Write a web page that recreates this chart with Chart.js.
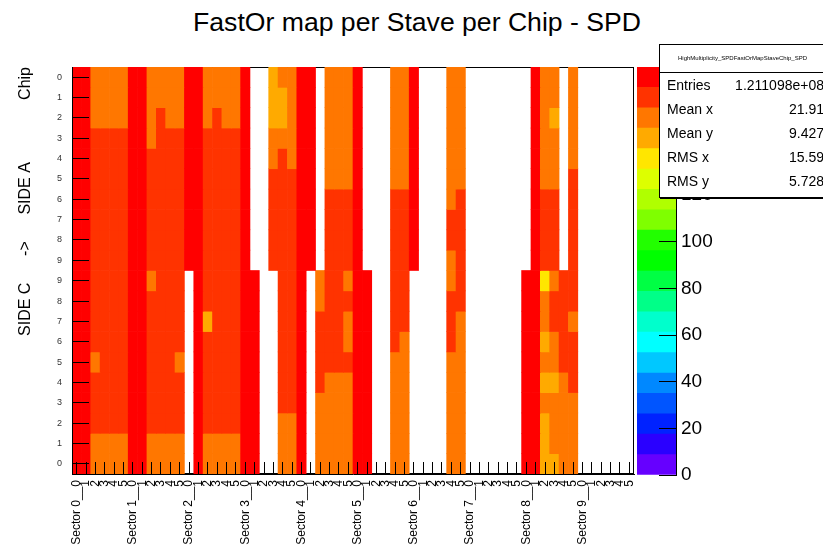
<!DOCTYPE html>
<html>
<head>
<meta charset="utf-8">
<script src="https://cdn.jsdelivr.net/npm/chart.js@4.4.1/dist/chart.umd.min.js"></script>
<style>
  html, body { margin: 0; padding: 0; background: #fff; overflow: hidden; }
  body { width: 823px; height: 554px; position: relative; font-family: "Liberation Sans", Arial, sans-serif; }
  #main { position: absolute; left: 0; top: 0; }
  #pal { position: absolute; left: 630px; top: 0; }
  #title { position: absolute; left: 0; top: 9px; width: 834px; text-align: center; font-size: 26.6px; line-height: 26px; white-space: nowrap; }
  #stats { position: absolute; left: 659px; top: 44px; width: 165px; height: 152px; background: #fff; border: 1px solid #000; box-shadow: 1px 1px 0 #000; }
  #stats .hdr { height: 27px; border-bottom: 1px solid #000; font-size: 6px; line-height: 27px; text-align: center; white-space: nowrap; overflow: hidden; }
  #stats .row { height: 24px; line-height: 24px; font-size: 14px; display: flex; justify-content: space-between; padding: 0 1px 0 7px; }
</style>
</head>
<body>
<div id="title">FastOr map per Stave per Chip - SPD</div>
<canvas id="main" width="823" height="554"></canvas>
<canvas id="pal" width="193" height="554"></canvas>
<div id="stats">
  <div class="hdr">HighMultiplicity_SPDFastOrMapStaveChip_SPD</div>
  <div class="row"><span>Entries</span><span>1.211098e+08</span></div>
  <div class="row"><span>Mean x</span><span>21.91</span></div>
  <div class="row"><span>Mean y</span><span>9.427</span></div>
  <div class="row"><span>RMS x</span><span>15.59</span></div>
  <div class="row"><span>RMS y</span><span>5.728</span></div>
</div>
<script>
// 10 sectors x 6 staves on x, chips on y (side A on top, side C below)
const sectors = [0, 1, 2, 3, 4, 5, 6, 7, 8, 9];
const staves = [0, 1, 2, 3, 4, 5];
const zTicks = [0, 20, 40, 60, 80, 100, 120, 140, 160];
const zMax = 175;

// rows listed top to bottom, 6 values per sector, 0 = empty bin
const sideA0 = [171,171,153,153,153,153, 171,171,153,153,153,153, 171,171,153,153,153,153, 171,0,0,144,153,153, 171,171,0,153,153,153, 171,0,0,0,153,153, 171,0,0,0,153,153, 0,0,0,0,0,0, 0,171,153,153,0,153, 0,0,0,0,0,0];
const sideA1 = [171,171,153,153,153,153, 171,171,153,153,153,153, 171,171,153,153,153,153, 171,0,0,144,144,153, 171,171,0,153,153,153, 171,0,0,0,153,153, 171,0,0,0,153,153, 0,0,0,0,0,0, 0,171,153,153,0,153, 0,0,0,0,0,0];
const sideA2 = [171,171,153,153,153,153, 171,171,153,162,153,153, 171,171,153,162,153,153, 171,0,0,144,144,153, 171,171,0,153,153,153, 171,0,0,0,153,153, 171,0,0,0,153,153, 0,0,0,0,0,0, 0,171,153,144,0,153, 0,0,0,0,0,0];
const sideA3 = [171,171,162,162,162,162, 171,171,153,162,162,162, 171,171,162,162,162,162, 171,0,0,153,153,153, 171,171,0,153,153,153, 171,0,0,0,153,153, 171,0,0,0,153,153, 0,0,0,0,0,0, 0,171,153,153,0,153, 0,0,0,0,0,0];
const sideA4 = [171,171,162,162,162,162, 171,171,162,162,162,162, 171,171,162,162,162,162, 171,0,0,153,162,153, 171,171,0,153,153,153, 171,0,0,0,153,153, 171,0,0,0,153,153, 0,0,0,0,0,0, 0,171,153,153,0,153, 0,0,0,0,0,0];
const sideA5 = [171,171,162,162,162,162, 171,171,162,162,162,162, 171,171,162,162,162,162, 171,0,0,162,162,162, 171,171,0,153,153,153, 171,0,0,0,153,153, 171,0,0,0,153,153, 0,0,0,0,0,0, 0,171,153,153,0,162, 0,0,0,0,0,0];
const sideA6 = [171,171,162,162,162,162, 171,171,162,162,162,162, 171,171,162,162,162,162, 171,0,0,162,162,162, 171,171,0,162,162,162, 171,0,0,0,162,162, 171,0,0,0,153,162, 0,0,0,0,0,0, 0,171,162,162,0,162, 0,0,0,0,0,0];
const sideA7 = [171,171,162,162,162,162, 171,171,162,162,162,162, 171,171,162,162,162,162, 171,0,0,162,162,162, 171,171,0,162,162,162, 171,0,0,0,162,162, 171,0,0,0,162,162, 0,0,0,0,0,0, 0,171,162,162,0,162, 0,0,0,0,0,0];
const sideA8 = [171,171,162,162,162,162, 171,171,162,162,162,162, 171,171,162,162,162,162, 171,0,0,162,162,162, 171,171,0,162,162,162, 171,0,0,0,162,162, 171,0,0,0,162,162, 0,0,0,0,0,0, 0,171,162,162,0,162, 0,0,0,0,0,0];
const sideA9 = [171,171,162,162,162,162, 171,171,162,162,162,162, 171,171,162,162,162,162, 171,0,0,162,162,162, 171,171,0,162,162,162, 171,0,0,0,162,162, 171,0,0,0,153,162, 0,0,0,0,0,0, 0,171,162,162,0,162, 0,0,0,0,0,0];
const sideC9 = [171,171,162,162,162,162, 171,171,153,162,162,162, 0,171,162,162,162,162, 171,171,0,0,162,162, 171,0,153,162,162,153, 171,171,0,0,162,162, 0,0,0,0,153,162, 0,0,0,0,0,0, 171,171,136,153,162,162, 0,0,0,0,0,0];
const sideC8 = [171,171,162,162,162,162, 171,171,162,162,162,162, 0,171,162,162,162,162, 171,171,0,0,162,162, 171,0,153,162,162,162, 171,171,0,0,162,162, 0,0,0,0,162,162, 0,0,0,0,0,0, 171,171,153,162,162,162, 0,0,0,0,0,0];
const sideC7 = [171,171,162,162,162,162, 171,171,162,162,162,162, 0,171,144,162,162,162, 171,171,0,0,162,162, 171,0,162,162,162,153, 171,171,0,0,162,162, 0,0,0,0,162,153, 0,0,0,0,0,0, 171,171,153,162,162,153, 0,0,0,0,0,0];
const sideC6 = [171,171,162,162,162,162, 171,171,162,162,162,162, 0,171,162,162,162,162, 171,171,0,0,162,162, 171,0,162,162,162,153, 171,171,0,0,162,153, 0,0,0,0,162,153, 0,0,0,0,0,0, 171,171,144,153,162,162, 0,0,0,0,0,0];
const sideC5 = [171,171,153,162,162,162, 171,171,162,162,162,153, 0,171,162,162,162,162, 171,171,0,0,162,162, 171,0,162,162,162,162, 171,171,0,0,153,153, 0,0,0,0,153,153, 0,0,0,0,0,0, 171,171,153,153,162,162, 0,0,0,0,0,0];
const sideC4 = [171,171,162,162,162,162, 171,171,162,162,162,162, 0,171,162,162,162,162, 171,171,0,0,162,162, 171,0,162,153,153,153, 171,171,0,0,153,153, 0,0,0,0,153,153, 0,0,0,0,0,0, 171,171,144,144,153,162, 0,0,0,0,0,0];
const sideC3 = [171,171,162,162,162,162, 171,171,162,162,162,162, 0,171,162,162,162,162, 171,171,0,0,162,162, 171,0,153,153,153,153, 171,171,0,0,153,153, 0,0,0,0,153,153, 0,0,0,0,0,0, 171,171,153,153,153,153, 0,0,0,0,0,0];
const sideC2 = [171,171,162,162,162,162, 171,171,162,162,162,162, 0,171,162,162,162,162, 171,171,0,0,153,153, 171,0,153,153,153,153, 171,171,0,0,153,153, 0,0,0,0,153,153, 0,0,0,0,0,0, 171,171,144,153,153,153, 0,0,0,0,0,0];
const sideC1 = [171,171,153,153,153,153, 171,171,153,153,153,153, 0,171,153,153,153,153, 171,171,0,0,153,153, 171,0,153,153,153,153, 171,171,0,0,153,153, 0,0,0,0,153,153, 0,0,0,0,0,0, 171,171,144,153,153,153, 0,0,0,0,0,0];
const sideC0 = [171,171,153,153,153,153, 171,171,153,153,153,153, 0,171,153,153,153,153, 171,171,0,0,153,153, 171,0,153,153,153,153, 171,171,0,0,153,153, 0,0,0,0,153,153, 0,0,0,0,0,0, 171,171,144,144,153,153, 0,0,0,0,0,0];

const rows = [sideA0, sideA1, sideA2, sideA3, sideA4, sideA5, sideA6, sideA7, sideA8, sideA9,
              sideC9, sideC8, sideC7, sideC6, sideC5, sideC4, sideC3, sideC2, sideC1, sideC0];
const rowLabels = ['0','1','2','3','4','5','6','7','8','9','9','8','7','6','5','4','3','2','1','0'];

const paletteColors = ['#6600ff','#2a00ff','#0022ff','#0055ff','#0088ff','#00c8ff','#00ffff','#00ffcc','#00ff88','#00ff44',
                       '#00ff00','#22ff00','#7fff00','#b0ff00','#ddff00','#ffe600','#ffaa00','#ff7700','#ff3300','#ff0000'];
const bandWidth = zMax / paletteColors.length;

function colorFor(v) {
  return paletteColors[Math.min(paletteColors.length - 1, Math.floor(v / bandWidth))];
}

const FONT = '"Liberation Sans", Arial, sans-serif';

const xLabels = [];
sectors.forEach(s => staves.forEach(st => xLabels.push(st === 0 ? 'Sector ' + s + '__0' : String(st))));

const nRows = rows.length;
const datasets = rows.map((row, i) => {
  const k = nRows - 1 - i;
  return {
    label: 'row ' + i,
    data: row.map(v => v > 0 ? [k, k + 1] : null),
    backgroundColor: row.map(v => v > 0 ? colorFor(v) : 'rgba(0,0,0,0)'),
    borderWidth: 0,
    grouped: false,
    categoryPercentage: 1,
    barPercentage: 1
  };
});

// top and right sides of the frame, drawn under the cells
const framePlugin = {
  id: 'frame',
  beforeDatasetsDraw(chart) {
    const { ctx, chartArea: a } = chart;
    ctx.save();
    ctx.strokeStyle = '#000';
    ctx.lineWidth = 1;
    ctx.strokeRect(a.left + 0.5, a.top + 0.5, a.right - a.left - 1, a.bottom - a.top - 1);
    ctx.restore();
  }
};

new Chart(document.getElementById('main'), {
  type: 'bar',
  data: { labels: xLabels, datasets: datasets },
  options: {
    responsive: false,
    animation: false,
    layout: { padding: { left: 0, top: 67, right: 189, bottom: 0 } },
    plugins: { legend: { display: false }, tooltip: { enabled: false } },
    scales: {
      x: {
        type: 'category',
        offset: true,
        grid: { offset: false, drawOnChartArea: false, tickLength: -12, color: '#000', lineWidth: 1, z: 1 },
        border: { display: true, color: '#000', width: 1, z: 1 },
        ticks: { autoSkip: false, maxRotation: 90, minRotation: 90, padding: 18, color: '#000', font: { size: 12, family: FONT } },
        afterFit: s => { s.height = 80; }
      },
      y: {
        type: 'linear',
        min: 0,
        max: nRows,
        afterBuildTicks: s => { s.ticks = rowLabels.map((_, k) => ({ value: k + 0.5 })); },
        ticks: { callback: (v, i) => rowLabels[nRows - 1 - i], padding: 27, color: '#333', font: { size: 9, family: FONT } },
        grid: { drawOnChartArea: false, tickLength: -17, color: '#000', lineWidth: 1, z: 1 },
        border: { display: true, color: '#000', width: 1, z: 1 },
        title: {
          display: true,
          text: 'SIDE C      ->      SIDE A              Chip',
          align: 'end',
          padding: { top: 16, bottom: 0 },
          color: '#000',
          font: { size: 16, family: FONT }
        },
        afterFit: s => { s.width = 72; }
      }
    }
  },
  plugins: [framePlugin]
});

// colour scale on the right
new Chart(document.getElementById('pal'), {
  type: 'bar',
  data: {
    labels: [''],
    datasets: paletteColors.map((c, i) => ({
      data: [[i * bandWidth, (i + 1) * bandWidth]],
      backgroundColor: c,
      borderWidth: 0,
      grouped: false,
      categoryPercentage: 1,
      barPercentage: 1
    }))
  },
  options: {
    responsive: false,
    animation: false,
    layout: { padding: { left: 7, top: 67, right: 0, bottom: 79 } },
    plugins: { legend: { display: false }, tooltip: { enabled: false } },
    scales: {
      x: { display: false },
      y: {
        position: 'right',
        min: 0,
        max: zMax,
        afterBuildTicks: s => { s.ticks = zTicks.map(v => ({ value: v })); },
        ticks: { padding: 22, color: '#000', font: { size: 19, family: FONT } },
        grid: { drawOnChartArea: false, tickLength: -17, color: '#000', lineWidth: 1, z: 1 },
        border: { display: true, color: '#000', width: 1, z: 1 },
        afterFit: s => { s.width = 147; }
      }
    }
  }
});
</script>
</body>
</html>
